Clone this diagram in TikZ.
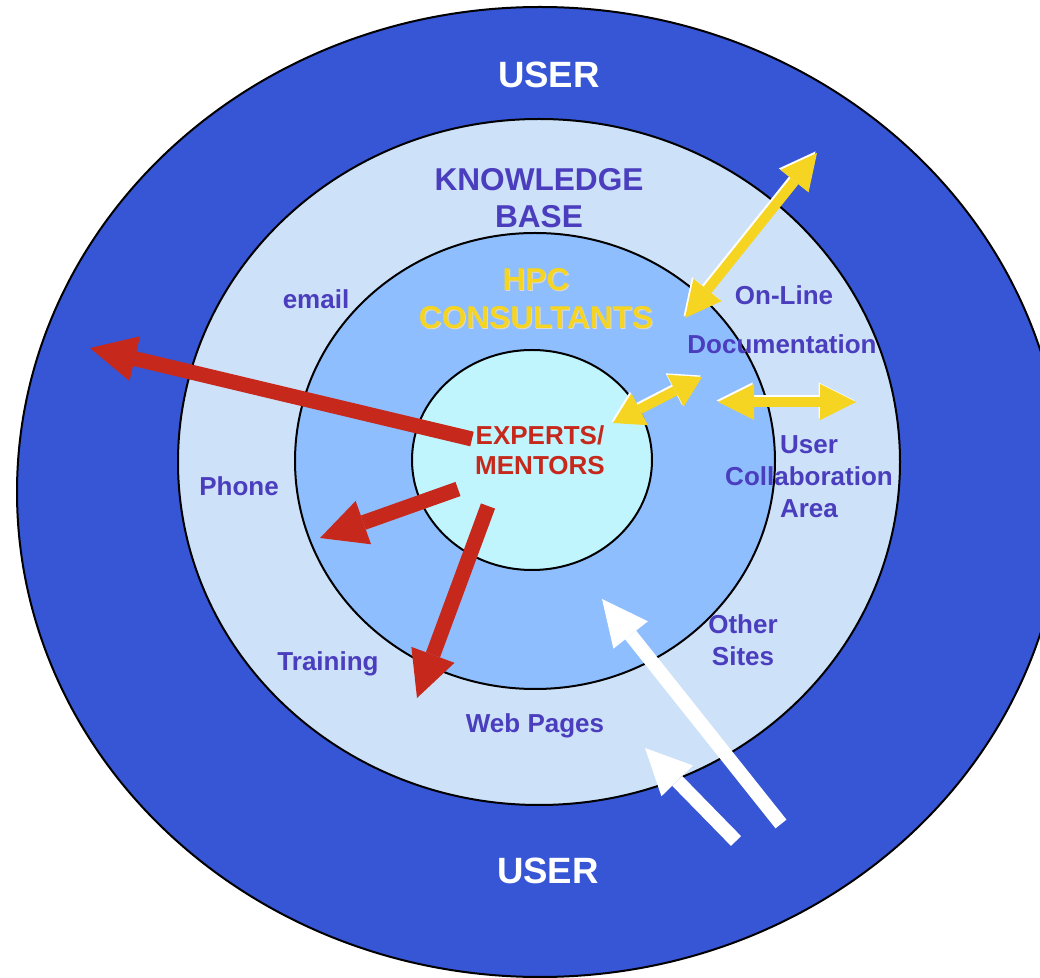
\documentclass[tikz,border=0pt]{standalone}
\usepackage{fontspec}
\setmainfont{Liberation Sans}
\usetikzlibrary{arrows.meta,shapes.geometric}

\definecolor{userblue}{HTML}{3656D6}
\definecolor{kbblue}{HTML}{CDE1F8}
\definecolor{hpcblue}{HTML}{8FBEFE}
\definecolor{coreblue}{HTML}{C1F5FE}
\definecolor{labelpurple}{HTML}{4A3DBE}
\definecolor{expred}{HTML}{C6281B}
\definecolor{consyellow}{HTML}{F5D422}

\tikzset{
  ring/.style={ellipse, draw=black, line width=1pt, inner sep=0pt},
  lbl/.style={anchor=base, text=labelpurple, font=\fontsize{13}{15}\selectfont\bfseries},
  biglbl/.style={anchor=base, font=\fontsize{15.8}{18}\selectfont\bfseries},
  redarrow/.style={draw=expred, line width=7.5pt,
    -{Triangle[length=23pt, width=23pt, line width=0pt]}},
  whitearrow/.style={draw=white, line width=7pt,
    -{Triangle[length=23pt, width=22pt, line width=0pt]}},
  yelarrow/.style={line width=5pt,
    {Triangle[length=18pt, width=18pt, line width=0pt]}-{Triangle[length=18pt, width=18pt, line width=0pt]}},
  smallyel/.style={line width=5pt,
    {Triangle[length=15pt, width=18pt, line width=0pt]}-{Triangle[length=15pt, width=18pt, line width=0pt]}},
}

\begin{document}
\begin{tikzpicture}[x=0.5pt, y=-0.5pt]
\useasboundingbox (0,0) rectangle (1040,978);

% rings
\node[ring, fill=userblue, minimum width=523pt, minimum height=485pt] (user) at (540,492) {};
\node[ring, fill=kbblue, minimum width=361pt, minimum height=343pt] (kb) at (539,462) {};
\node[ring, fill=hpcblue, minimum width=240pt, minimum height=228pt] (hpc) at (535,461) {};
\node[ring, fill=coreblue, minimum width=120pt, minimum height=110pt] (core) at (532,460) {};

% arrow ends
\coordinate (r1a) at (472,439);  \coordinate (r1b) at (90,348);
\coordinate (r2a) at (458,489);  \coordinate (r2b) at (320,538);
\coordinate (r3a) at (488,506);  \coordinate (r3b) at (417,698);
\coordinate (y1a) at (685,318);  \coordinate (y1b) at (817,153);
\coordinate (y2a) at (613,423);  \coordinate (y2b) at (702,377);
\coordinate (y3a) at (718,402);  \coordinate (y3b) at (856,402);
\coordinate (w1a) at (781,824);  \coordinate (w1b) at (602,599);
\coordinate (w2a) at (736,841);  \coordinate (w2b) at (645,748);

% experts out
\draw[redarrow] (r1a) -- (r1b);
\draw[redarrow] (r2a) -- (r2b);
\draw[redarrow] (r3a) -- (r3b);

% users in
\draw[whitearrow] (w1a) -- (w1b);
\draw[whitearrow] (w2a) -- (w2b);

% two-way links, white edge first
\foreach \col/\off in {white/-1.5,consyellow/0}{
  \begin{scope}[transform canvas={shift={(\off,\off)}}]
    \draw[yelarrow, draw=\col] (y1a) -- (y1b);
    \draw[smallyel, draw=\col] (y2a) -- (y2b);
    \draw[yelarrow, draw=\col] (y3a) -- (y3b);
  \end{scope}
}

% labels
\node[anchor=base, text=white, font=\fontsize{18.3}{20}\selectfont\bfseries] (usertop) at (549,88) {USER};
\node[anchor=base, text=white, font=\fontsize{18.3}{20}\selectfont\bfseries] (userbot) at (548,883) {USER};
\node[biglbl, text=labelpurple] (kb1) at (539,191) {KNOWLEDGE};
\node[biglbl, text=labelpurple] (kb2) at (539,228) {BASE};
\node[biglbl, text=black!15] (hpcs1) at (537,292) {HPC};
\node[biglbl, text=black!15] (hpcs2) at (537,330) {CONSULTANTS};
\node[biglbl, text=consyellow] (hpc1) at (536,291) {HPC};
\node[biglbl, text=consyellow] (hpc2) at (536,329) {CONSULTANTS};
\node[lbl, text=expred] (exp1) at (540,445) {EXPERTS/};
\node[lbl, text=expred] (exp2) at (540,475) {MENTORS};
\node[lbl] (email) at (316,309) {email};
\node[lbl] (online) at (784,305) {On-Line};
\node[lbl] (doc) at (782,354) {Documentation};
\node[lbl] (collab1) at (809,454) {User};
\node[lbl] (collab2) at (809,486) {Collaboration};
\node[lbl] (collab3) at (809,518) {Area};
\node[lbl] (phone) at (239,496) {Phone};
\node[lbl] (training) at (328,671) {Training};
\node[lbl] (other1) at (743,634) {Other};
\node[lbl] (other2) at (743,666) {Sites};
\node[lbl] (web) at (535,733) {Web Pages};
\end{tikzpicture}
\end{document}
